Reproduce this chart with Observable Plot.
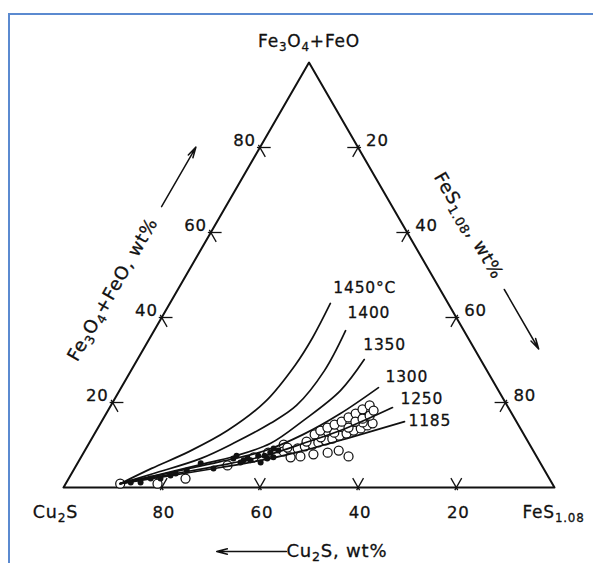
<!DOCTYPE html>
<html><head><meta charset="utf-8">
<script src="https://cdn.jsdelivr.net/npm/d3@7"></script>
<script src="https://cdn.jsdelivr.net/npm/@observablehq/plot@0.6"></script>
<style>
html,body{margin:0;padding:0;background:#fff;overflow:hidden}
#wrap{position:relative;width:593px;height:563px;overflow:hidden}
#frame{position:absolute;left:8px;top:13px;width:620px;height:620px;border-left:2px solid #5b8ad0;border-top:2px solid #5b8ad0}
#chart{position:absolute;left:0;top:0}
#chart text{letter-spacing:0.8px}
</style></head><body><div id="wrap"><div id="frame"></div><div id="chart"></div></div>
<script>
// ---- data (wt%): each point is [FeS1.08, Fe3O4+FeO]; Cu2S = 100 - FeS - oxide ----
const temps = ["1450°C", "1400", "1350", "1300", "1250", "1185"];
const curve1450 = [[11.1,0.9],[15.7,4.5],[21.4,8.5],[26.7,13.4],[31.0,20.2],[32.8,28.9],[33.1,35.3],[32.7,43.3]];
const curve1400 = [[11.1,0.9],[16.7,3.3],[24.5,6.8],[29.4,10.4],[34.6,15.1],[37.8,19.3],[39.4,27.5],[39.0,36.9]];
const curve1350 = [[11.1,0.9],[18.2,3.1],[25.2,5.4],[31.0,7.3],[37.0,10.4],[41.0,15.8],[45.0,22.8],[46.2,30.1]];
const curve1300 = [[11.1,0.9],[20.0,3.5],[28.9,6.1],[36.8,8.7],[42.6,12.5],[47.7,17.4],[52.4,23.5]];
const curve1250 = [[11.1,0.9],[20.3,3.1],[29.4,5.2],[37.4,7.5],[43.7,10.4],[50.5,13.9],[57.6,18.8]];
const curve1185 = [[11.1,0.9],[20.4,2.8],[29.6,4.7],[37.9,6.6],[44.0,8.5],[52.6,11.8],[61.7,15.5]];
const curves = [curve1450, curve1400, curve1350, curve1300, curve1250, curve1185];

// measured compositions: open circles
const openPoints = [
  [11.1,0.9],[18.7,0.9],[23.8,2.1],[30.8,5.2],[35.2,7.1],[37.6,8.2],[39.8,10.1],
  [40.6,8.5],[41.9,8.7],[43.1,9.2],[44.3,9.7],[45.7,10.1],[46.6,10.6],[47.8,11.1],[49.0,11.5],
  [50.1,12.2],[51.3,12.7],[52.4,13.4],[53.6,13.9],[54.6,14.6],[55.4,15.1],
  [40.9,9.4],[44.1,10.8],[46.5,11.8],[48.7,12.9],[51.0,14.1],[53.3,15.3],
  [42.7,7.1],[44.6,7.3],[47.0,7.8],[49.7,8.2],[51.7,8.7],[54.4,7.3],
  [44.9,12.5],[45.6,13.4],[46.7,14.1],[47.8,14.8],[48.9,15.5],[49.8,16.5],[50.8,17.4],
  [51.7,18.4],[52.7,19.3],[51.7,15.5],[52.8,16.2],[53.9,16.9],[54.1,18.1]
];
// measured compositions: filled circles
const filledPoints = [
  [13.1,1.2],[15.1,1.2],[16.7,2.1],[18.7,2.1],[20.4,2.8],[21.2,3.3],[23.1,4.0],[25.1,5.7],[28.3,4.5],
  [31.2,6.8],[31.5,7.5],[33.5,6.4],[33.1,5.9],[34.1,6.8],[34.9,6.4],[35.9,7.5],[37.2,5.9],[37.2,7.5],
  [38.1,6.8],[38.0,8.2],[38.2,9.2],[39.2,7.1],[39.4,8.7]
];
const tickValues = [20, 40, 60, 80];
const labelTop = "Fe_3O_4+FeO";
const labelLeftVertex = "Cu_2S";
const labelRightVertex = "FeS_{1.08}";
const titleLeft = "Fe_3O_4+FeO, wt%";
const titleRight = "FeS_{1.08}, wt%";
const titleBottom = "Cu_2S, wt%";

// ---- ternary -> cartesian (FeS vertex at x=1, oxide vertex at top) ----
const SQ = Math.sqrt(3) / 2;
const tx = (fes, ox) => (fes + ox / 2) / 100;
const ty = (ox) => ox * SQ / 100;
const P = (fes, ox) => ({x: tx(fes, ox), y: ty(ox)});

const triangle = [P(0,0), P(100,0), P(0,100), P(0,0)];
const curveRows = curves.flatMap((pts, i) => pts.map(p => ({T: temps[i], ...P(p[0], p[1])})));
const openRows = openPoints.map(p => P(p[0], p[1]));
const filledRows = filledPoints.map(p => P(p[0], p[1]));

// tick stubs along the two grid directions through each tick
const L = 2.2, O = 0.6;
const seg = (a, b) => ({x1: a.x, y1: a.y, x2: b.x, y2: b.y});
const ticks = tickValues.flatMap(v => [
  seg(P(100 - v + O, -O), P(100 - v - L, L)),
  seg(P(100 - v, -O), P(100 - v, L)),
  seg(P(-O, v), P(L, v)),
  seg(P(-O, v + O), P(L, v - L)),
  seg(P(v, 100 - v + O), P(v, 100 - v - L)),
  seg(P(v + O, 100 - v), P(v - L, 100 - v))
]);

const FONT = "'DejaVu Sans', sans-serif";
const labelOffsets = [[3,-15],[2,-18],[-1,-15],[7,-11],[8,-9],[4,-1]];
const INK = "#111";
const T = {fill: INK, stroke: INK, strokeWidth: 0.3};

const marks = [
  Plot.line(triangle, {x: "x", y: "y", stroke: INK, strokeWidth: 2}),
  Plot.link(ticks, {x1: "x1", y1: "y1", x2: "x2", y2: "y2", stroke: INK, strokeWidth: 1.3}),
  Plot.dot(openRows, {x: "x", y: "y", r: 4.5, fill: "white", stroke: INK, strokeWidth: 1.25}),
  Plot.line(curveRows, {x: "x", y: "y", z: "T", curve: "catmull-rom", stroke: INK, strokeWidth: 1.7}),
  Plot.dot(filledRows, {x: "x", y: "y", r: 3, fill: INK}),
  ...curves.map((pts, i) => Plot.text([pts[pts.length - 1]], {
    x: p => tx(p[0], p[1]), y: p => ty(p[1]), text: () => temps[i],
    textAnchor: "start", dx: labelOffsets[i][0], dy: labelOffsets[i][1], fontSize: 15.5, ...T
  })),
  Plot.text(tickValues, {x: v => tx(100 - v, 0), y: () => 0, text: v => String(v), dx: 2, dy: 25, fontSize: 16.5, ...T}),
  Plot.text(tickValues, {x: v => tx(0, v), y: v => ty(v), text: v => String(v), textAnchor: "end", dx: -4, dy: -7, fontSize: 16.5, ...T}),
  Plot.text(tickValues, {x: v => tx(v, 100 - v), y: v => ty(100 - v), text: v => String(v), textAnchor: "start", dx: 8, dy: -7, fontSize: 16.5, ...T}),
  Plot.text([labelTop], {x: () => tx(0, 100), y: () => ty(100), text: d => d, dy: -21, fontSize: 17, ...T}),
  Plot.text([labelLeftVertex], {x: () => tx(0, 0), y: () => 0, text: d => d, dx: -8, dy: 25, fontSize: 17.5, ...T}),
  Plot.text([labelRightVertex], {x: () => tx(100, 0), y: () => 0, text: d => d, dx: -1, dy: 25, fontSize: 17, ...T}),
  Plot.text([titleLeft], {x: () => tx(0, 40), y: () => ty(40), text: d => d, rotate: -60, dx: -49, dy: -28, fontSize: 18, ...T}),
  Plot.text([titleRight], {x: () => tx(45, 55), y: () => ty(55), text: d => d, rotate: 60, dx: 49, dy: -28, fontSize: 18, ...T}),
  Plot.text([titleBottom], {x: () => tx(45.4, 0), y: () => 0, text: d => d, textAnchor: "start", dx: 0, dy: 64, fontSize: 18, ...T}),
  Plot.arrow([0], {x1: () => tx(0, 59.5), y1: () => ty(59.5), x2: () => tx(0, 73.5), y2: () => ty(73.5), dx: -48, dy: -28, stroke: INK, strokeWidth: 1.5, headLength: 11, headAngle: 28}),
  Plot.arrow([0], {x1: () => tx(60, 40), y1: () => ty(40), x2: () => tx(74, 26), y2: () => ty(26), dx: 48, dy: -28, stroke: INK, strokeWidth: 1.5, headLength: 11, headAngle: 28}),
  Plot.arrow([0], {x1: () => tx(45.4, 0), y1: () => 0, x2: () => tx(31.2, 0), y2: () => 0, dy: 64, stroke: INK, strokeWidth: 1.5, headLength: 11, headAngle: 28})
];

const chart = Plot.plot({
  width: 593, height: 563, margin: 0,
  x: {domain: [0, 1], range: [63, 554], axis: null},
  y: {domain: [0, SQ], range: [487, 62], axis: null},
  style: {background: "transparent", fontFamily: FONT, overflow: "visible"},
  marks
});

// subscripts: "_x" or "_{...}"
d3.select(chart).selectAll("text").each(function () {
  const s = this.textContent;
  if (!s.includes("_")) return;
  while (this.firstChild) this.removeChild(this.firstChild);
  const re = /_\{([^}]*)\}|_(.)/g;
  let last = 0, m, down = false;
  const add = (txt, sub) => {
    if (!txt) return;
    const t = document.createElementNS("http://www.w3.org/2000/svg", "tspan");
    t.textContent = txt;
    if (sub && !down) { t.setAttribute("dy", "4"); down = true; }
    else if (!sub && down) { t.setAttribute("dy", "-4"); down = false; }
    if (sub) t.setAttribute("font-size", "70%");
    this.appendChild(t);
  };
  while ((m = re.exec(s))) {
    add(s.slice(last, m.index), false);
    add(m[1] !== undefined ? m[1] : m[2], true);
    last = re.lastIndex;
  }
  add(s.slice(last), false);
});

document.getElementById("chart").appendChild(chart);
</script></body></html>
